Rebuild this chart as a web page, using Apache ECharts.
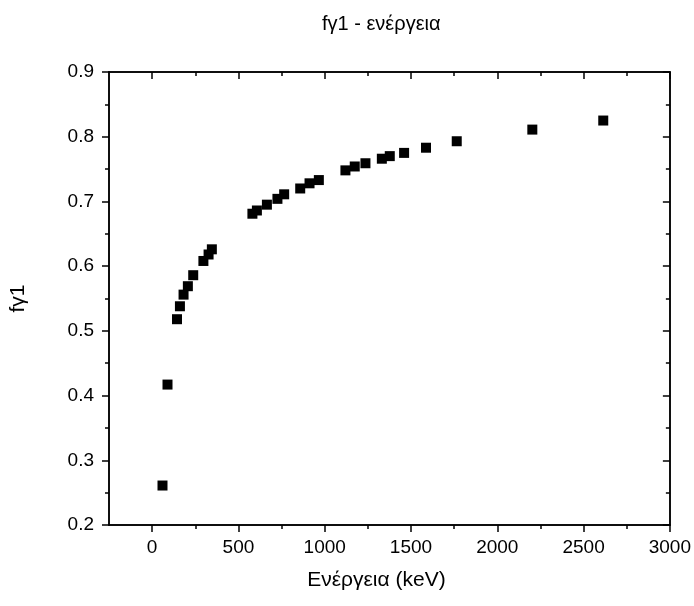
<!DOCTYPE html>
<html>
<head>
<meta charset="utf-8">
<script src="https://cdn.jsdelivr.net/npm/echarts@6/dist/echarts.min.js"></script>
<style>html,body{margin:0;padding:0;background:#fff;}#c{width:694px;height:606px;}</style>
</head>
<body>
<div id="c"></div>
<script>
const energy = [60, 89, 144, 161, 182, 207, 238, 297, 327, 346, 581, 607, 665, 726, 765, 858, 912, 966, 1120, 1174, 1236, 1331, 1377, 1460, 1587, 1765, 2203, 2614];
const fy1 = [0.261, 0.417, 0.518, 0.538, 0.556, 0.569, 0.586, 0.608, 0.618, 0.626, 0.681, 0.686, 0.695, 0.704, 0.711, 0.720, 0.728, 0.733, 0.748, 0.754, 0.759, 0.766, 0.770, 0.775, 0.783, 0.793, 0.811, 0.825];
const xTicks = [0, 500, 1000, 1500, 2000, 2500, 3000];
const xMinorTicks = [250, 750, 1250, 1750, 2250, 2750];
const yTicks = [0.2, 0.3, 0.4, 0.5, 0.6, 0.7, 0.8, 0.9];
const yMinorTicks = [0.25, 0.35, 0.45, 0.55, 0.65, 0.75, 0.85];

const FONT = 'Liberation Sans, Arial, sans-serif';
const lineStyle = {color: '#000', width: 1.5};
const XMIN = -250, XMAX = 3000, YMIN = 0.2, YMAX = 0.9;

function xAx(pos, ticks, len, inside, labels, extra) {
  return Object.assign({
    type: 'value', position: pos, min: XMIN, max: XMAX,
    axisLine: {show: true, onZero: false, lineStyle: lineStyle},
    axisTick: {show: true, customValues: ticks, length: len, inside: inside, lineStyle: lineStyle},
    axisLabel: labels ? {show: true, customValues: ticks, color: '#000', fontSize: 19, fontFamily: FONT, margin: 13,
      formatter: v => String(v)} : {show: false},
    splitLine: {show: false}
  }, extra || {});
}
function yAx(pos, ticks, len, inside, labels, extra) {
  return Object.assign({
    type: 'value', position: pos, min: YMIN, max: YMAX,
    axisLine: {show: true, onZero: false, lineStyle: lineStyle},
    axisTick: {show: true, customValues: ticks, length: len, inside: inside, lineStyle: lineStyle},
    axisLabel: labels ? {show: true, customValues: ticks, color: '#000', fontSize: 19, fontFamily: FONT, margin: 15,
      formatter: v => v.toFixed(1)} : {show: false},
    splitLine: {show: false}
  }, extra || {});
}

const chart = echarts.init(document.getElementById('c'), null, {renderer: 'canvas'});
chart.setOption({
  backgroundColor: '#fff',
  animation: false,
  title: {
    text: 'fγ1 - ενέργεια', left: 317, top: 9,
    textStyle: {color: '#000', fontSize: 20, fontWeight: 'normal', fontFamily: FONT}
  },
  grid: {left: 109, right: 24, top: 72, bottom: 81, containLabel: false},
  xAxis: [
    xAx('bottom', xTicks, 7, false, true, {
      name: 'Ενέργεια (keV)', nameLocation: 'middle', nameGap: 45,
      nameTextStyle: {color: '#000', fontSize: 21, fontFamily: FONT, padding: [0, 26, 0, 0]}
    }),
    xAx('bottom', xMinorTicks, 4, false, false),
    xAx('top', xTicks, 7, true, false),
    xAx('top', xMinorTicks, 4, true, false)
  ],
  yAxis: [
    yAx('left', yTicks, 7, false, true, {
      name: 'fγ1', nameLocation: 'middle', nameGap: 80, nameRotate: 90,
      nameTextStyle: {color: '#000', fontSize: 21, fontFamily: FONT}
    }),
    yAx('left', yMinorTicks, 4, false, false),
    yAx('right', yTicks, 7, true, false),
    yAx('right', yMinorTicks, 4, true, false)
  ],
  series: [{
    type: 'scatter', xAxisIndex: 0, yAxisIndex: 0,
    symbol: 'rect', symbolSize: 10,
    itemStyle: {color: '#000', opacity: 1},
    data: energy.map((e, i) => [e, fy1[i]])
  }]
});
</script>
</body>
</html>
